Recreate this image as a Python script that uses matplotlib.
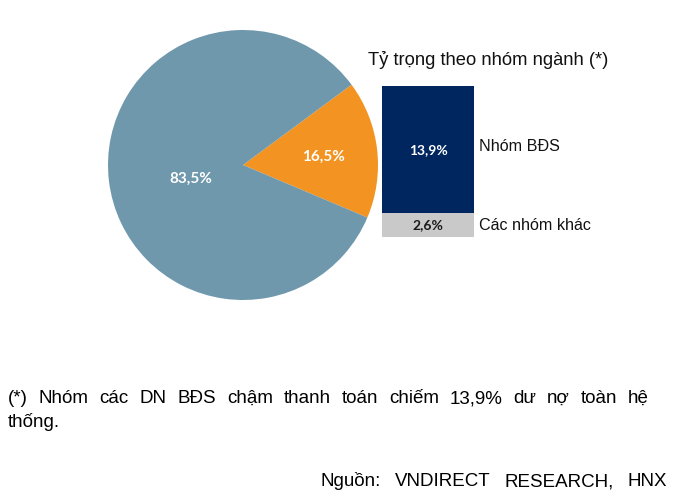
import numpy as np
import matplotlib
matplotlib.use("Agg")
import matplotlib.pyplot as plt

# ---- data ----
pie_labels = ["16,5%", "83,5%"]
pie_values = [16.5, 83.5]
pie_colors = ["#F39322", "#6F98AD"]
bar_categories = ["Các nhóm khác", "Nhóm BĐS"]
bar_values = [2.6, 13.9]
bar_value_labels = ["2,6%", "13,9%"]
bar_colors = ["#C9C9C9", "#002660"]
bar_text_colors = ["#1a1a1a", "white"]
title = "Tỷ trọng theo nhóm ngành (*)"
note_line1 = "(*) Nhóm các DN BĐS chậm thanh toán chiếm 13,9% dư nợ toàn hệ"
note_line2 = "thống."
source = "Nguồn: VNDIRECT RESEARCH, HNX"

W, H = 676, 498
fig = plt.figure(figsize=(W / 100, H / 100), dpi=100)
fig.patch.set_facecolor("white")

def px_axes(x0, y0, x1, y1):
    return fig.add_axes([x0 / W, 1 - y1 / H, (x1 - x0) / W, (y1 - y0) / H])

# ---- pie ----
cx, cy, r = 243, 165, 135
ax = px_axes(cx - r, cy - r, cx + r, cy + r)
wedges, _ = ax.pie(pie_values, colors=pie_colors, startangle=-22.9,
                   counterclock=True, radius=1.0,
                   wedgeprops=dict(linewidth=0))
ax.set_xlim(-1, 1)
ax.set_ylim(-1, 1)
ax.set_aspect("auto")
ax.axis("off")
label_dist = [0.60, 0.40]
label_off = [0.0, 6.0]
for w, lab, d, off in zip(wedges, pie_labels, label_dist, label_off):
    ang = np.deg2rad((w.theta1 + w.theta2) / 2 + off)
    ax.text(d * np.cos(ang), d * np.sin(ang) - 0.01, lab, ha="center", va="center",
            color="white", fontsize=11, fontweight="bold", family="Lato")

# ---- stacked bar ----
bx = px_axes(382, 86, 474, 237)
bottom = 0
for v, c, lab, tc in zip(bar_values, bar_colors, bar_value_labels, bar_text_colors):
    bx.bar(0, v, bottom=bottom, width=1.0, color=c, linewidth=0)
    bx.text(0, bottom + v / 2, lab, ha="center", va="center", color=tc,
            fontsize=10, fontweight="bold", family="Lato")
    bottom += v
bx.set_xlim(-0.5, 0.5)
bx.set_ylim(0, sum(bar_values))
bx.axis("off")

# category labels next to bar
bx.text(1.05, bar_values[0] / 2, bar_categories[0], transform=bx.get_yaxis_transform(),
        ha="left", va="center", fontsize=11.6, family="Liberation Sans", color="#111111")
bx.text(1.05, bar_values[0] + bar_values[1] / 2 + 0.3, bar_categories[1],
        transform=bx.get_yaxis_transform(),
        ha="left", va="center", fontsize=11.6, family="Liberation Sans", color="#111111")

fig.text(368 / W, 1 - 60 / H, title, ha="left", va="center", fontsize=13.2,
         family="Liberation Sans", color="#111111")

# ---- notes (justified lines) ----
def justified(line, x0, x1, y, **kw):
    words = line.split(" ")
    renderer = fig.canvas.get_renderer()
    widths = []
    for w in words:
        t = fig.text(0, 0, w, **kw)
        bb = t.get_window_extent(renderer)
        widths.append(bb.width)
        t.remove()
    gap = ((x1 - x0) - sum(widths)) / (len(words) - 1)
    x = x0
    for w, wd in zip(words, widths):
        fig.text(x / W, 1 - y / H, w, ha="left", va="baseline", **kw)
        x += wd + gap

note_kw = dict(fontsize=13.5, family="Liberation Sans", color="black")
justified(note_line1, 8, 649, 403, **note_kw)
fig.text(8 / W, 1 - 427 / H, note_line2, ha="left", va="baseline", **note_kw)
justified(source, 321, 667, 486, **note_kw)

fig.savefig("out.png", dpi=100, facecolor="white")
